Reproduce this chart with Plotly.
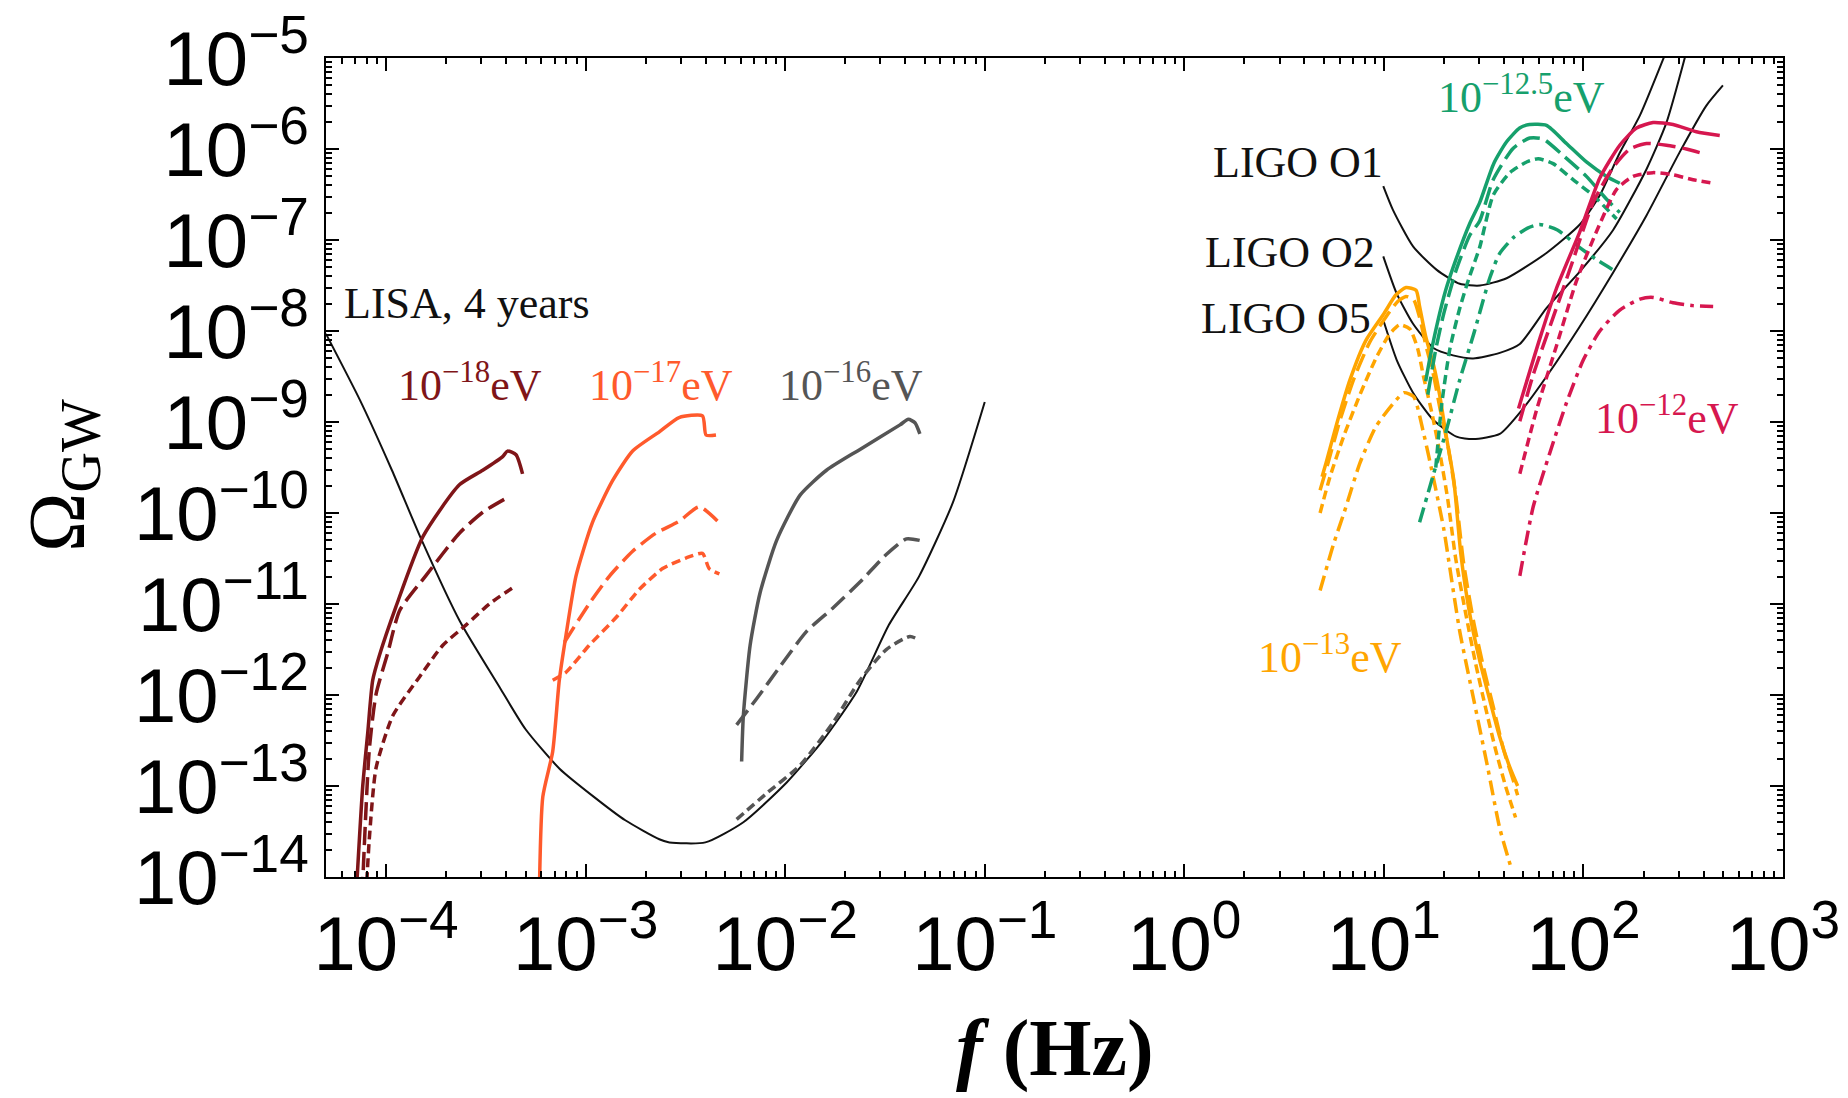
import plotly.graph_objects as go

# ---------------- detector sensitivity curves ----------------
lisa_f = [5.0e-5, 7.4e-5, 1.07e-4, 1.51e-4, 2.34e-4, 3.72e-4, 5.0e-4, 7.4e-4, 1.10e-3, 1.58e-3,
          2.34e-3, 2.63e-3, 3.98e-3, 6.17e-3, 1.02e-2, 1.55e-2, 2.29e-2, 3.31e-2, 4.68e-2, 6.92e-2, 1.0e-1]
lisa_omega = [9.3e-9, 1.74e-9, 2.95e-10, 5.0e-11, 6.5e-12, 1.2e-12, 4.2e-13, 1.55e-13, 7.6e-14, 4.2e-14,
              2.6e-14, 2.4e-14, 2.4e-14, 4.0e-14, 1.1e-13, 3.2e-13, 1.1e-12, 5.9e-12, 2.0e-11, 1.3e-10, 1.66e-9]

ligo_o1_f = [9.93, 11.1, 14.0, 18.4, 24.0, 30.3, 41.2, 65.3, 95.9, 120.8, 152.1, 191.9, 263.0]
ligo_o1_omega = [3.9e-7, 2.14e-7, 8.5e-8, 4.7e-8, 3.3e-8, 3.16e-8, 3.8e-8, 7.2e-8, 1.48e-7, 3.1e-7,
                 9.1e-7, 2.34e-6, 1.26e-5]

ligo_o2_f = [9.93, 11.6, 14.0, 17.7, 22.2, 28.0, 38.1, 48.0, 65.3, 95.9, 140.9, 207.0, 260.6, 331.0]
ligo_o2_omega = [6.6e-8, 2.57e-8, 1.2e-8, 6.5e-9, 5.4e-9, 5.0e-9, 5.75e-9, 7.2e-9, 1.78e-8, 4.5e-8,
                 1.29e-7, 6.0e-7, 1.95e-6, 1.26e-5]

ligo_o5_f = [9.93, 11.6, 14.0, 17.7, 23.1, 28.0, 38.1, 49.9, 65.3, 95.9, 140.9, 207.0, 304.1, 413.0, 500.0]
ligo_o5_omega = [1.32e-8, 4.8e-9, 2.1e-9, 1.05e-9, 6.9e-10, 6.5e-10, 7.4e-10, 1.41e-9, 3.16e-9, 1.12e-8,
                 4.4e-8, 1.86e-7, 9.3e-7, 3.0e-6, 5.0e-6]

# ---------------- boson mass 1e-18 eV ----------------
m18_solid_f = [7.08e-5, 7.64e-5, 8.09e-5, 8.57e-5, 9.25e-5, 1.12e-4, 1.53e-4, 2.33e-4, 3.05e-4, 3.84e-4,
               4.06e-4, 4.48e-4, 4.83e-4]
m18_solid_omega = [6.3e-15, 1.0e-13, 3.8e-13, 1.45e-12, 2.7e-12, 9.3e-12, 5.5e-11, 2.04e-10, 2.95e-10,
                   4.17e-10, 4.79e-10, 4.37e-10, 2.69e-10]
m18_long_f = [7.59e-5, 8.24e-5, 8.91e-5, 1.02e-4, 1.17e-4, 1.58e-4, 2.33e-4, 3.05e-4, 3.99e-4]
m18_long_omega = [6.3e-15, 2.5e-13, 1.02e-12, 2.9e-12, 8.5e-12, 2.04e-11, 6.0e-11, 1.02e-10, 1.45e-10]
m18_short_f = [7.94e-5, 8.24e-5, 8.91e-5, 1.08e-4, 1.47e-4, 1.92e-4, 2.52e-4, 3.29e-4, 4.31e-4]
m18_short_omega = [6.3e-15, 2.6e-14, 1.58e-13, 5.9e-13, 1.58e-12, 3.5e-12, 5.9e-12, 1.0e-11, 1.51e-11]

# ---------------- boson mass 1e-17 eV ----------------
m17_solid_f = [5.86e-4, 6.10e-4, 6.84e-4, 7.38e-4, 7.98e-4, 8.95e-4, 1.08e-3, 1.36e-3, 1.72e-3, 2.34e-3,
               2.94e-3, 3.85e-3, 4.01e-3, 4.50e-3]
m17_solid_omega = [6.3e-15, 7.6e-14, 2.4e-13, 1.45e-12, 4.6e-12, 2.04e-11, 7.8e-11, 2.24e-10, 4.8e-10,
                   7.8e-10, 1.12e-9, 1.17e-9, 7.2e-10, 7.2e-10]
m17_long_f = [7.83e-4, 1.04e-3, 1.32e-3, 1.72e-3, 2.25e-3, 2.94e-3, 3.71e-3, 4.68e-3]
m17_long_omega = [3.8e-12, 1.0e-11, 2.04e-11, 3.8e-11, 6.0e-11, 8.1e-11, 1.17e-10, 7.8e-11]
m17_short_f = [6.84e-4, 7.98e-4, 1.04e-3, 1.42e-3, 1.86e-3, 2.43e-3, 3.18e-3, 3.85e-3, 4.16e-3, 4.68e-3]
m17_short_omega = [1.45e-12, 1.78e-12, 3.5e-12, 7.1e-12, 1.45e-11, 2.45e-11, 3.2e-11, 3.6e-11, 2.45e-11,
                   2.14e-11]

# ---------------- boson mass 1e-16 eV ----------------
m16_solid_f = [6.05e-3, 6.17e-3, 6.67e-3, 7.48e-3, 9.06e-3, 1.19e-2, 1.61e-2, 2.37e-2, 3.76e-2, 4.14e-2,
               4.47e-2, 4.73e-2]
m16_solid_omega = [1.86e-13, 5.9e-13, 3.5e-12, 1.32e-11, 5.0e-11, 1.58e-10, 2.95e-10, 5.0e-10, 9.3e-10,
                   1.07e-9, 9.8e-10, 7.4e-10]
m16_long_f = [5.71e-3, 7.19e-3, 9.40e-3, 1.28e-2, 1.74e-2, 2.37e-2, 3.21e-2, 4.05e-2, 4.72e-2]
m16_long_omega = [4.7e-13, 9.1e-13, 2.04e-12, 5.0e-12, 9.1e-12, 1.74e-11, 3.5e-11, 5.2e-11, 5.0e-11]
m16_short_f = [5.71e-3, 8.07e-3, 1.19e-2, 1.74e-2, 2.37e-2, 3.21e-2, 4.22e-2, 4.72e-2]
m16_short_omega = [4.3e-14, 8.3e-14, 1.7e-13, 5.0e-13, 1.45e-12, 3.16e-12, 4.4e-12, 4.0e-12]

# ---------------- boson mass 1e-13 eV ----------------
m13_solid_f = [4.90, 5.13, 5.75, 6.76, 8.13, 10.0, 11.5, 12.9, 14.5, 15.1, 16.2, 17.8, 19.1, 20.4, 22.4,
               24.3, 26.9, 30.2, 33.9, 38.0, 42.7, 46.8]
m13_solid_omega = [2.5e-10, 3.55e-10, 8.9e-10, 2.9e-9, 7.9e-9, 1.55e-8, 2.5e-8, 3.0e-8, 2.8e-8, 1.86e-8,
                   8.7e-9, 4.1e-9, 1.9e-9, 7.6e-10, 2.3e-10, 3.55e-11, 7.9e-12, 2.4e-12, 8.9e-13, 3.5e-13,
                   1.62e-13, 1.0e-13]
m13_long_f = [4.79, 5.25, 6.03, 7.08, 8.51, 10.2, 11.7, 12.9, 14.1, 15.1, 16.2, 17.8, 19.1, 20.9, 22.9,
              25.1, 28.2, 31.6, 35.5, 39.8, 44.7, 46.8]
m13_long_omega = [1.78e-10, 3.55e-10, 1.05e-9, 3.0e-9, 7.6e-9, 1.41e-8, 2.1e-8, 2.4e-8, 2.2e-8, 1.41e-8,
                  7.1e-9, 3.16e-9, 1.41e-9, 5.6e-10, 1.58e-10, 2.8e-11, 6.3e-12, 2.0e-12, 7.1e-13, 2.5e-13,
                  1.12e-13, 7.9e-14]
m13_dash_f = [4.79, 5.37, 6.31, 7.59, 9.12, 10.7, 12.0, 13.5, 14.8, 15.8, 17.4, 19.1, 20.9, 22.9, 25.7,
              28.8, 32.4, 36.3, 40.7, 45.7]
m13_dash_omega = [1.0e-10, 2.5e-10, 7.1e-10, 2.0e-9, 5.0e-9, 9.3e-9, 1.17e-8, 1.05e-8, 6.3e-9, 3.16e-9,
                  1.26e-9, 4.5e-10, 1.41e-10, 3.16e-11, 7.9e-12, 2.24e-12, 7.1e-13, 2.5e-13, 1.0e-13, 4.5e-14]
m13_dashdot_f = [4.79, 5.62, 6.31, 7.59, 9.12, 11.2, 12.6, 14.1, 15.8, 17.8, 20.0, 21.4, 24.0, 28.2, 33.1,
                 38.0, 43.7]
m13_dashdot_omega = [1.41e-11, 4.7e-11, 1.0e-10, 3.55e-10, 8.9e-10, 1.62e-9, 2.1e-9, 1.9e-9, 7.6e-10,
                     2.3e-10, 6.5e-11, 2.5e-11, 5.0e-12, 8.9e-13, 1.62e-13, 3.5e-14, 1.2e-14]

# ---------------- boson mass 1e-12.5 eV ----------------
m125_solid_f = [16.2, 17.0, 18.6, 20.4, 22.9, 26.9, 30.2, 35.5, 41.2, 47.9, 53.7, 65.3, 82.2, 103.5, 130.6,
                152.1]
m125_solid_omega = [2.8e-9, 5.0e-9, 1.26e-8, 2.8e-8, 6.0e-8, 1.51e-7, 2.57e-7, 6.9e-7, 1.2e-6, 1.7e-6,
                    1.86e-6, 1.82e-6, 1.15e-6, 7.2e-7, 5.0e-7, 4.2e-7]
m125_long_f = [16.6, 18.2, 20.0, 22.9, 26.9, 30.2, 35.3, 44.5, 53.8, 62.8, 79.1, 103.5, 130.6, 152.1]
m125_long_omega = [2.0e-9, 6.3e-9, 1.58e-8, 4.5e-8, 1.12e-7, 1.62e-7, 4.6e-7, 1.02e-6, 1.32e-6, 1.29e-6,
                   8.5e-7, 5.0e-7, 2.8e-7, 2.0e-7]
m125_dash_f = [18.2, 19.5, 21.4, 24.0, 26.9, 30.2, 35.3, 42.8, 51.9, 59.3, 70.5, 88.7, 111.7, 146.6]
m125_dash_omega = [3.16e-10, 1.58e-9, 6.3e-9, 1.78e-8, 4.0e-8, 8.3e-8, 3.1e-7, 5.5e-7, 7.2e-7, 7.8e-7,
                   6.9e-7, 4.6e-7, 3.1e-7, 1.7e-7]
m125_dashdot_f = [15.1, 17.8, 20.4, 24.0, 28.2, 33.9, 38.0, 44.7, 52.5, 60.3, 74.1, 95.5, 117.5, 147.9]
m125_dashdot_omega = [7.9e-11, 2.75e-10, 7.6e-10, 2.9e-9, 9.3e-9, 3.8e-8, 7.1e-8, 1.07e-7, 1.35e-7, 1.48e-7,
                      1.29e-7, 8.3e-8, 6.0e-8, 4.4e-8]

# ---------------- boson mass 1e-12 eV ----------------
m12_solid_f = [47.3, 60.5, 73.3, 95.9, 120.8, 152.1, 184.5, 223.4, 281.2, 368.1, 482.0]
m12_solid_omega = [1.41e-9, 8.3e-9, 2.95e-8, 1.23e-7, 4.8e-7, 1.1e-6, 1.7e-6, 1.95e-6, 1.86e-6, 1.55e-6,
                   1.41e-6]
m12_long_f = [48.0, 56.0, 70.5, 88.7, 111.7, 140.9, 170.6, 207.0, 260.6, 328.1, 398.1]
m12_long_omega = [1.02e-9, 3.3e-9, 1.41e-8, 6.0e-8, 2.57e-7, 6.3e-7, 1.0e-6, 1.15e-6, 1.1e-6, 1.0e-6, 8.9e-7]
m12_dash_f = [48.0, 58.2, 73.3, 92.3, 116.1, 146.6, 177.4, 223.4, 281.2, 354.0, 446.7]
m12_dash_omega = [2.7e-10, 1.35e-9, 6.9e-9, 3.55e-8, 1.23e-7, 3.6e-7, 5.0e-7, 5.5e-7, 5.2e-7, 4.6e-7, 4.2e-7]
m12_dashdot_f = [48.0, 56.0, 67.9, 82.2, 99.8, 120.8, 152.1, 191.9, 223.4, 281.2, 354.0, 446.7]
m12_dashdot_omega = [2.04e-11, 1.17e-10, 4.6e-10, 1.62e-9, 4.8e-9, 1.0e-8, 1.7e-8, 2.24e-8, 2.34e-8,
                     2.04e-8, 1.9e-8, 1.86e-8]

# ---------------- axis ticks ----------------
x_tick_vals = [1e-4, 1e-3, 1e-2, 1e-1, 1e0, 1e1, 1e2, 1e3]
x_tick_text = ["10<sup>−4</sup>", "10<sup>−3</sup>", "10<sup>−2</sup>", "10<sup>−1</sup>",
               "10<sup>0</sup>", "10<sup>1</sup>", "10<sup>2</sup>", "10<sup>3</sup>"]
y_tick_vals = [1e-14, 1e-13, 1e-12, 1e-11, 1e-10, 1e-9, 1e-8, 1e-7, 1e-6, 1e-5]
y_tick_text = ["10<sup>−14</sup>", "10<sup>−13</sup>", "10<sup>−12</sup>", "10<sup>−11</sup>",
               "10<sup>−10</sup>", "10<sup>−9</sup>", "10<sup>−8</sup>", "10<sup>−7</sup>",
               "10<sup>−6</sup>", "10<sup>−5</sup>"]

# ---------------- styles ----------------
BLACK = "#111111"
MAROON = "#7F1518"
TOMATO = "#FF5A2C"
GRAY = "#555555"
ORANGE = "#FFA500"
GREEN = "#16A06C"
CRIMSON = "#D6174F"

SOLID = "solid"
LONG = "18px,7px"
SHORT = "9px,5px"
DASHDOT = "15px,6px,4px,6px"

fig = go.Figure()


def add_curve(f, omega, color, dash, width=3.5):
    fig.add_trace(go.Scatter(x=f, y=omega, mode="lines",
                             line=dict(color=color, dash=dash, width=width, shape="spline",
                                       smoothing=0.6),
                             hoverinfo="skip", showlegend=False))


# detectors
add_curve(lisa_f, lisa_omega, BLACK, SOLID, 2)
add_curve(ligo_o1_f, ligo_o1_omega, BLACK, SOLID, 2)
add_curve(ligo_o2_f, ligo_o2_omega, BLACK, SOLID, 2)
add_curve(ligo_o5_f, ligo_o5_omega, BLACK, SOLID, 2)

# low-mass bosons (LISA band)
add_curve(m18_solid_f, m18_solid_omega, MAROON, SOLID)
add_curve(m18_long_f, m18_long_omega, MAROON, LONG)
add_curve(m18_short_f, m18_short_omega, MAROON, SHORT)
add_curve(m17_solid_f, m17_solid_omega, TOMATO, SOLID)
add_curve(m17_long_f, m17_long_omega, TOMATO, LONG)
add_curve(m17_short_f, m17_short_omega, TOMATO, SHORT)
add_curve(m16_solid_f, m16_solid_omega, GRAY, SOLID)
add_curve(m16_long_f, m16_long_omega, GRAY, LONG)
add_curve(m16_short_f, m16_short_omega, GRAY, SHORT)

# high-mass bosons (LIGO band)
add_curve(m13_solid_f, m13_solid_omega, ORANGE, SOLID)
add_curve(m13_long_f, m13_long_omega, ORANGE, LONG)
add_curve(m13_dash_f, m13_dash_omega, ORANGE, SHORT)
add_curve(m13_dashdot_f, m13_dashdot_omega, ORANGE, DASHDOT)
add_curve(m125_solid_f, m125_solid_omega, GREEN, SOLID)
add_curve(m125_long_f, m125_long_omega, GREEN, LONG)
add_curve(m125_dash_f, m125_dash_omega, GREEN, SHORT)
add_curve(m125_dashdot_f, m125_dashdot_omega, GREEN, DASHDOT)
add_curve(m12_solid_f, m12_solid_omega, CRIMSON, SOLID)
add_curve(m12_long_f, m12_long_omega, CRIMSON, LONG)
add_curve(m12_dash_f, m12_dash_omega, CRIMSON, SHORT)
add_curve(m12_dashdot_f, m12_dashdot_omega, CRIMSON, DASHDOT)

SERIF = "Liberation Serif, Times New Roman, serif"
SANS = "Liberation Sans, Arial, Helvetica, sans-serif"

# curve labels (positions in log10 axis units)
labels = [
    ("LISA, 4 years", -4.22, -7.70, BLACK, "left"),
    ("10<sup>−18</sup>eV", -3.58, -8.57, MAROON, "center"),
    ("10<sup>−17</sup>eV", -2.62, -8.57, TOMATO, "center"),
    ("10<sup>−16</sup>eV", -1.67, -8.57, GRAY, "center"),
    ("10<sup>−12.5</sup>eV", 1.69, -5.40, GREEN, "center"),
    ("10<sup>−12</sup>eV", 2.42, -8.93, CRIMSON, "center"),
    ("10<sup>−13</sup>eV", 0.73, -11.55, ORANGE, "center"),
    ("LIGO O1", 1.005, -6.15, BLACK, "right"),
    ("LIGO O2", 0.965, -7.14, BLACK, "right"),
    ("LIGO O5", 0.945, -7.86, BLACK, "right"),
]
for text, lx, ly, color, anchor in labels:
    fig.add_annotation(x=lx, y=ly, xref="x", yref="y", text=text, showarrow=False,
                       xanchor=anchor, yanchor="middle",
                       font=dict(family=SERIF, size=44, color=color))

# axis titles
fig.add_annotation(x=0.5, y=-0.21, xref="paper", yref="paper",
                   text="<b><i>f</i></b> <b>(Hz)</b>", showarrow=False,
                   xanchor="center", yanchor="middle",
                   font=dict(family=SERIF, size=80, color="black"))
fig.add_annotation(x=-0.181, y=0.49, xref="paper", yref="paper",
                   text="Ω<sub>GW</sub>", showarrow=False, textangle=-90,
                   xanchor="center", yanchor="middle",
                   font=dict(family=SERIF, size=80, color="black"))

minor_x = [m * 10.0 ** e for e in range(-5, 3) for m in range(2, 10)]
minor_y = [m * 10.0 ** e for e in range(-15, -5) for m in range(2, 10)]

axis_common = dict(
    type="log", showline=True, linecolor="black", linewidth=2, mirror="ticks",
    ticks="inside", ticklen=13, tickwidth=2, tickcolor="black",
    showgrid=False, zeroline=False,
    tickfont=dict(family=SANS, size=76, color="black"),
)

fig.update_xaxes(range=[-4.301, 3], tickmode="array", tickvals=x_tick_vals, ticktext=x_tick_text,
                 minor=dict(ticks="inside", ticklen=6, tickwidth=1.5, tickcolor="black",
                            tickmode="array", tickvals=minor_x, showgrid=False),
                 **axis_common)
fig.update_yaxes(range=[-14, -5], tickmode="array", tickvals=y_tick_vals, ticktext=y_tick_text,
                 minor=dict(ticks="inside", ticklen=6, tickwidth=1.5, tickcolor="black",
                            tickmode="array", tickvals=minor_y, showgrid=False),
                 **axis_common)

fig.update_layout(
    width=1848, height=1098,
    margin=dict(l=326, r=65, t=58, b=221, autoexpand=False),
    paper_bgcolor="white", plot_bgcolor="white",
    showlegend=False,
)

fig.write_html("out.html")
